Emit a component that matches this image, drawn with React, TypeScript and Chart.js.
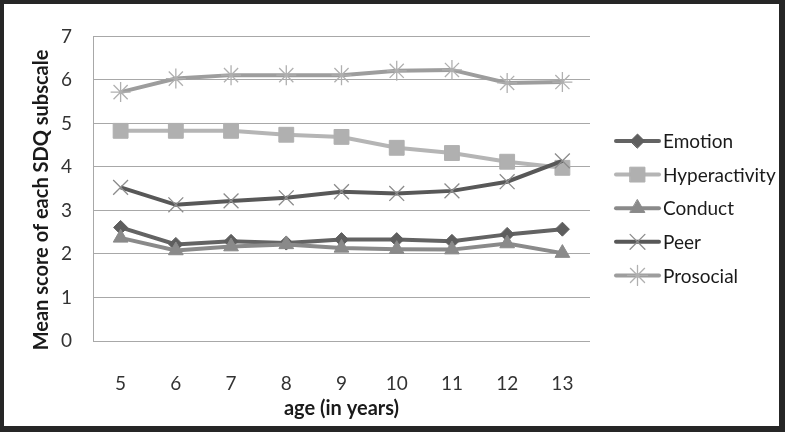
import React, { useEffect, useRef } from 'react';
import { Chart, registerables } from 'chart.js';
import { drawPoint } from 'chart.js/helpers';

Chart.register(...registerables);

const ages = ['5', '6', '7', '8', '9', '10', '11', '12', '13'];
const emotion = [2.61, 2.22, 2.29, 2.25, 2.33, 2.33, 2.29, 2.45, 2.57];
const hyperactivity = [4.83, 4.83, 4.83, 4.74, 4.69, 4.44, 4.32, 4.12, 3.98];
const conduct = [2.37, 2.08, 2.17, 2.22, 2.14, 2.11, 2.1, 2.24, 2.02];
const peer = [3.53, 3.13, 3.22, 3.29, 3.43, 3.39, 3.45, 3.66, 4.14];
const prosocial = [5.72, 6.03, 6.11, 6.11, 6.11, 6.21, 6.23, 5.93, 5.95];
const yMin = 0;
const yMax = 7;
const yStep = 1;
const yTitle = 'Mean score of each SDQ subscale';
const xTitle = 'age (in years)';

const FONT = 'Lato, "Open Sans", sans-serif';

const overlayPlugin = {
  id: 'overlay',
  afterDraw(chart: any) {
    const ctx = chart.ctx;
    const area = chart.chartArea;
    ctx.save();
    // y title
    ctx.save();
    ctx.translate(38, 196);
    ctx.rotate(-Math.PI / 2);
    ctx.font = `bold 20px ${FONT}`;
    ctx.fillStyle = '#1a1a1a';
    ctx.textAlign = 'center';
    ctx.textBaseline = 'middle';
    ctx.fillText(yTitle, 0, 0);
    ctx.restore();

    // legend
    const x0 = area.right + 26;
    const x1 = x0 + 43;
    const yStart = 137;
    const gap = 33.6;
    chart.data.datasets.forEach((ds: any, i: number) => {
      const y = yStart + i * gap;
      ctx.save();
      ctx.strokeStyle = ds.borderColor;
      ctx.lineWidth = ds.borderWidth;
      ctx.lineCap = 'round';
      ctx.beginPath();
      ctx.moveTo(x0, y);
      ctx.lineTo(x1, y);
      ctx.stroke();
      ctx.fillStyle = ds.pointBackgroundColor;
      ctx.strokeStyle = ds.pointBorderColor;
      ctx.lineWidth = ds.pointBorderWidth;
      drawPoint(ctx, { pointStyle: ds.pointStyle, rotation: 0, radius: ds.pointRadius, borderWidth: ds.pointBorderWidth }, (x0 + x1) / 2, y);
      ctx.restore();
      ctx.font = `19px ${FONT}`;
      ctx.fillStyle = '#1a1a1a';
      ctx.textAlign = 'left';
      ctx.textBaseline = 'middle';
      ctx.fillText(ds.label, x1 + 4, y + 1);
    });
    ctx.restore();
  },
};

export default function App() {
  const ref = useRef<HTMLCanvasElement | null>(null);
  useEffect(() => {
    if (!ref.current) return;
    const chart = new Chart(ref.current, {
      type: 'line',
      data: {
        labels: ages,
        datasets: [
          {
            label: 'Emotion', data: emotion, borderColor: '#636363', borderWidth: 4,
            pointStyle: 'rectRot', pointRadius: 7, pointBackgroundColor: '#5e5e5e', pointBorderColor: '#5e5e5e', pointBorderWidth: 1, order: 5,
          },
          {
            label: 'Hyperactivity', data: hyperactivity, borderColor: '#b5b5b5', borderWidth: 4,
            pointStyle: 'rect', pointRadius: 10.5, pointBackgroundColor: '#b0b0b0', pointBorderColor: '#b0b0b0', pointBorderWidth: 1, order: 4,
          },
          {
            label: 'Conduct', data: conduct, borderColor: '#8a8a8a', borderWidth: 4,
            pointStyle: 'triangle', pointRadius: 8.5, pointBackgroundColor: '#8a8a8a', pointBorderColor: '#8a8a8a', pointBorderWidth: 1, order: 3,
          },
          {
            label: 'Peer', data: peer, borderColor: '#585858', borderWidth: 4,
            pointStyle: 'crossRot', pointRadius: 10.5, pointBackgroundColor: '#8c8c8c', pointBorderColor: '#8c8c8c', pointBorderWidth: 1.3, order: 2,
          },
          {
            label: 'Prosocial', data: prosocial, borderColor: '#9d9d9d', borderWidth: 4,
            pointStyle: 'star', pointRadius: 10, pointBackgroundColor: '#b0b0b0', pointBorderColor: '#b0b0b0', pointBorderWidth: 1.3, order: 1,
          },
        ],
      },
      options: {
        responsive: false,
        animation: false,
        events: [],
        layout: { padding: { top: 31, right: 189, bottom: 0, left: 0 } },
        plugins: { legend: { display: false }, tooltip: { enabled: false } },
        scales: {
          x: {
            offset: true,
            grid: { display: false },
            border: { display: false },
            ticks: { color: '#333', padding: 23, font: { family: FONT, size: 19 } },
            title: { display: true, text: xTitle, color: '#1a1a1a', font: { family: FONT, size: 20, weight: 'bold' }, padding: { top: 0, bottom: 5 } },
            afterFit: (s: any) => { s.height = 85; },
          },
          y: {
            min: yMin, max: yMax,
            grid: { color: '#a8a8a8', drawTicks: false, lineWidth: 1 },
            border: { color: '#a8a8a8' },
            ticks: { stepSize: yStep, color: '#333', padding: 21, font: { family: FONT, size: 19 } },
            afterFit: (s: any) => { s.width = 89; },
          },
        },
      } as any,
      plugins: [overlayPlugin],
    });
    return () => chart.destroy();
  }, []);
  return (
    <div style={{ position: 'fixed', left: 0, top: 0, width: 785, height: 432, boxSizing: 'border-box', borderStyle: 'solid', borderColor: '#262626', borderWidth: '4px 6px 6px 4px', background: '#fff' }}>
      <canvas ref={ref} width={775} height={422} style={{ display: 'block' }} />
    </div>
  );
}
